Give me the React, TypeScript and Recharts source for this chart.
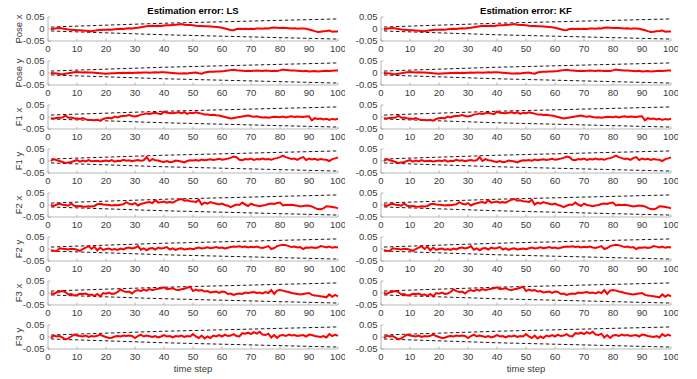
import React from "react";
import { LineChart, Line, XAxis, YAxis } from "recharts";

// ---------- data ----------
const rowLabels = ["Pose x", "Pose y", "F1 x", "F1 y", "F2 x", "F2 y", "F3 x", "F3 y"];
const columnTitles = ["Estimation error: LS", "Estimation error: KF"];
const xTicks = [0, 10, 20, 30, 40, 50, 60, 70, 80, 90, 100];
const yTicks = [-0.05, 0, 0.05];

// 3-sigma bound samples (time step -> bound)
const boundSteps = [1, 5, 10, 20, 30, 40, 50, 60, 70, 80, 90, 100];
const upperBound = [0.008, 0.010, 0.012, 0.016, 0.020, 0.024, 0.027, 0.030, 0.033, 0.036, 0.039, 0.042];
const lowerBound = [-0.008, -0.010, -0.012, -0.016, -0.020, -0.024, -0.027, -0.030, -0.033, -0.036, -0.039, -0.042];

const poseX = [
  0, 0.001, 0.003, 0.004, 0.002, 0.0, -0.002, -0.003, -0.004, -0.005,
  -0.005, -0.006, -0.007, -0.008, -0.009, -0.007, -0.005, -0.004, -0.003, -0.003,
  -0.002, -0.003, -0.001, 0.0, 0.001, 0.0, 0.002, 0.003, 0.002, 0.004,
  0.005, 0.007, 0.009, 0.011, 0.013, 0.014, 0.013, 0.014, 0.013, 0.015,
  0.016, 0.016, 0.017, 0.018, 0.019, 0.021, 0.018, 0.017, 0.017, 0.016,
  0.014, 0.013, 0.012, 0.011, 0.011, 0.010, 0.009, 0.008, 0.007, 0.005,
  0.002, -0.001, -0.004, -0.005, 0.0, 0.001, 0.0, 0.001, 0.0, 0.001,
  0.0, 0.002, 0.002, 0.001, 0.003, 0.002, 0.005, 0.006, 0.005, 0.004,
  0.005, 0.004, 0.003, 0.002, 0.003, 0.001, 0.002, 0.002, 0.001, -0.002,
  -0.005, -0.009, -0.012, -0.011, -0.009, -0.008, -0.006, -0.011, -0.010, -0.010,
];
const poseY = [
  0, -0.001, -0.002, -0.004, -0.005, -0.003, -0.001, 0.001, 0.003, 0.004,
  0.003, 0.002, 0.003, 0.002, 0.002, 0.001, 0.0, -0.001, -0.002, -0.003,
  -0.002, -0.001, -0.001, 0.0, 0.0, 0.001, 0.0, 0.001, 0.0, 0.001,
  0.002, 0.001, 0.002, 0.002, 0.001, 0.002, 0.003, 0.002, 0.003, 0.003,
  0.002, 0.001, 0.0, -0.001, -0.002, -0.002, -0.001, -0.002, 0.0, 0.001,
  0.002, -0.001, -0.003, 0.002, 0.004, 0.005, 0.005, 0.006, 0.006, 0.007,
  0.008, 0.010, 0.012, 0.013, 0.011, 0.010, 0.009, 0.008, 0.009, 0.008,
  0.009, 0.010, 0.009, 0.008, 0.010, 0.009, 0.008, 0.009, 0.008, 0.011,
  0.014, 0.012, 0.011, 0.010, 0.010, 0.009, 0.008, 0.007, 0.009, 0.006,
  0.007, 0.008, 0.006, 0.007, 0.008, 0.009, 0.008, 0.009, 0.010, 0.010,
];
const f1X = [
  -0.005, -0.006, -0.004, -0.003, -0.002, 0.006, -0.003, -0.002, -0.005, -0.006,
  -0.008, -0.004, -0.010, -0.012, -0.013, -0.014, -0.012, -0.015, -0.008, -0.005,
  -0.003, -0.006, 0.002, -0.002, 0.003, 0.004, 0.005, 0.008, 0.004, 0.002,
  0.005, 0.010, 0.012, 0.015, 0.013, 0.016, 0.018, 0.014, 0.012, 0.022,
  0.018, 0.017, 0.016, 0.018, 0.020, 0.016, 0.020, 0.013, 0.018, 0.016,
  0.020, 0.017, 0.014, 0.010, 0.010, 0.008, 0.009, 0.007, 0.006, 0.003,
  0.0, -0.003, -0.006, -0.004, -0.002, 0.0, 0.002, 0.004, 0.006, 0.003,
  0.001, 0.003, 0.0, -0.002, -0.001, -0.003, -0.001, 0.001, 0.0, -0.001,
  0.002, -0.002, 0.001, 0.003, 0.0, 0.002, 0.001, 0.0, 0.002, 0.003,
  -0.014, -0.005, -0.008, -0.006, -0.010, -0.007, -0.012, -0.008, -0.010, -0.007,
];
const f1Y = [
  0.0, 0.008, 0.003, 0.0, -0.004, -0.008, -0.006, -0.004, 0.0, 0.004,
  -0.003, 0.002, -0.002, 0.004, -0.001, 0.0, 0.001, -0.002, 0.0, 0.002,
  -0.001, 0.004, -0.003, 0.001, 0.0, 0.005, 0.001, 0.003, -0.001, 0.002,
  0.004, 0.001, 0.003, 0.016, 0.0, 0.008, 0.003, 0.002, -0.002, -0.004,
  0.0, -0.005, -0.003, 0.002, 0.0, -0.002, -0.006, 0.0, 0.003, 0.002,
  0.004, 0.001, 0.006, 0.003, 0.005, 0.007, 0.004, 0.006, 0.009, 0.005,
  0.007, 0.010, 0.013, 0.019, 0.016, 0.005, 0.003, 0.008, 0.006, 0.010,
  0.004, 0.008, 0.006, 0.010, 0.006, 0.008, 0.005, 0.010, 0.012, 0.016,
  0.022, 0.016, 0.012, 0.008, 0.010, 0.005, 0.012, 0.016, 0.004, 0.010,
  0.006, 0.009, 0.004, 0.008, 0.006, 0.005, 0.0, 0.008, 0.011, 0.015,
];
const f2X = [
  0.0, -0.004, 0.002, 0.005, 0.001, 0.0, -0.003, 0.006, -0.003, -0.005,
  -0.004, -0.006, -0.007, -0.005, -0.006, -0.004, 0.003, 0.005, 0.002, 0.001,
  0.0, -0.002, 0.0, -0.001, 0.001, 0.003, 0.012, 0.005, 0.002, 0.008,
  -0.002, 0.004, 0.007, 0.010, 0.012, 0.008, 0.020, 0.010, 0.012, 0.014,
  0.010, 0.012, 0.010, 0.016, 0.022, 0.025, 0.018, 0.020, 0.016, 0.015,
  0.012, 0.022, 0.002, 0.010, 0.006, 0.012, 0.008, 0.005, 0.002, 0.006,
  0.0, -0.003, -0.009, -0.003, 0.002, 0.0, 0.010, 0.002, -0.004, 0.006,
  0.0, -0.002, -0.005, -0.002, 0.0, 0.004, 0.006, 0.004, 0.008, 0.010,
  -0.002, 0.001, 0.0, 0.001, -0.001, -0.003, -0.006, -0.004, -0.002, -0.003,
  -0.006, -0.012, -0.017, -0.018, -0.014, -0.005, -0.006, -0.008, -0.010, -0.014,
];
const f2Y = [
  -0.005, -0.007, -0.008, 0.003, 0.001, 0.0, -0.002, 0.001, 0.0, -0.003,
  -0.008, 0.0, 0.006, 0.012, 0.0, 0.010, -0.006, 0.006, -0.004, 0.0,
  0.002, -0.003, 0.0, -0.004, 0.002, -0.002, 0.004, 0.006, 0.002, 0.005,
  0.012, -0.003, 0.003, -0.005, 0.002, 0.004, -0.002, 0.006, 0.002, 0.004,
  0.008, -0.002, 0.003, -0.004, 0.001, 0.003, -0.002, 0.0, 0.002, -0.001,
  0.003, 0.006, 0.002, 0.004, 0.007, 0.003, 0.005, 0.008, 0.004, 0.006,
  0.002, 0.005, 0.008, 0.010, 0.009, 0.011, 0.008, 0.010, 0.006, 0.009,
  0.007, 0.010, 0.006, 0.004, 0.008, 0.012, 0.0, 0.004, 0.012, 0.015,
  0.018, 0.016, 0.012, 0.008, 0.010, 0.006, 0.008, 0.0, 0.006, 0.005,
  0.007, 0.004, 0.006, 0.012, 0.010, 0.006, 0.010, 0.005, 0.008, 0.006,
];
const f3X = [
  0.0, -0.004, 0.003, 0.005, 0.008, 0.004, -0.006, -0.004, -0.010, -0.008,
  -0.003, -0.004, -0.002, -0.008, -0.006, -0.012, -0.004, -0.014, 0.0, -0.003,
  0.002, -0.004, -0.002, 0.004, 0.015, 0.008, 0.004, 0.006, -0.002, 0.008,
  0.012, 0.008, 0.014, 0.010, 0.016, 0.012, 0.015, 0.018, 0.020, 0.024,
  0.016, 0.018, 0.020, 0.014, 0.012, 0.016, 0.018, 0.022, 0.026, 0.008,
  0.014, 0.010, 0.012, 0.006, 0.008, 0.002, 0.004, 0.006, 0.0, 0.006,
  0.004, -0.004, -0.002, -0.008, -0.004, -0.002, -0.004, 0.002, 0.0, 0.002,
  0.004, 0.0, 0.002, -0.002, 0.004, 0.0, 0.012, -0.004, 0.010, 0.012,
  0.010, 0.006, 0.004, 0.0, -0.002, -0.004, -0.006, -0.004, -0.002, 0.0,
  -0.008, -0.010, -0.012, -0.014, -0.016, -0.018, -0.006, -0.016, -0.008, -0.014,
];
const f3Y = [
  -0.004, 0.006, 0.002, 0.004, -0.003, -0.010, -0.006, 0.002, 0.010, 0.006,
  0.004, 0.002, 0.006, 0.0, 0.004, 0.002, 0.005, 0.010, 0.004, 0.0,
  -0.004, -0.003, 0.002, 0.004, 0.002, 0.006, 0.004, 0.006, 0.004, -0.004,
  0.004, 0.010, 0.002, 0.006, 0.003, 0.0, 0.004, -0.002, 0.002, 0.008,
  0.002, 0.004, -0.002, 0.004, 0.002, 0.006, 0.0, 0.004, 0.002, 0.012,
  0.002, -0.004, 0.006, -0.006, 0.002, -0.004, 0.006, 0.002, 0.008, 0.002,
  0.010, 0.004, 0.006, 0.012, 0.004, 0.002, 0.016, 0.014, 0.018, 0.012,
  0.020, 0.014, 0.022, 0.010, 0.008, 0.014, -0.002, 0.008, -0.004, 0.006,
  0.008, 0.004, 0.010, 0.006, 0.008, 0.004, 0.006, 0.008, 0.002, 0.010,
  0.008, 0.004, 0.002, 0.0, 0.004, -0.002, 0.012, 0.004, 0.010, 0.005,
];

const seriesByRow = [poseX, poseY, f1X, f1Y, f2X, f2Y, f3X, f3Y];

// ---------- styling ----------
const FONT = "'Liberation Sans', Arial, Helvetica, sans-serif";
const FS = 9.5;
const AXIS = "#a6a6a6";
const TEXT = "#3a3a3a";
const RED = "#ff0000";

const PLOT_TOP0 = 17;
const ROW_PITCH = 44;
const PLOT_H = 24;
const TOP_M = 8;
const XAXIS_H = 14;
const CHART_W = 345;
const Y_AXIS_W = 48;
const RIGHT_M = 7;
const COL_LEFT = [0, 333];

const buildRows = (values: number[]) =>
  values.map((v, i) => {
    const t = i + 1;
    const bi = boundSteps.indexOf(t);
    return {
      t,
      v,
      up: bi >= 0 ? upperBound[bi] : null,
      lo: bi >= 0 ? lowerBound[bi] : null,
    };
  });

const XTick = (props: any) => {
  const { x, y, payload } = props;
  return (
    <g>
      <line x1={x} y1={y} x2={x} y2={y - 2.5} stroke={AXIS} strokeWidth={0.8} />
      <text x={x} y={y + 10.5} textAnchor="middle" fontSize={FS} fill={TEXT} fontFamily={FONT}>
        {payload.value}
      </text>
    </g>
  );
};

const fmtY = (v: number) => (v === 0 ? "0" : v.toFixed(2));

const YTick = (props: any) => {
  const { x, y, payload } = props;
  return (
    <g>
      <line x1={x} y1={y} x2={x + 2.5} y2={y} stroke={AXIS} strokeWidth={0.8} />
      <text x={x - 3.5} y={y} dy="0.35em" textAnchor="end" fontSize={FS} fill={TEXT} fontFamily={FONT}>
        {fmtY(payload.value)}
      </text>
    </g>
  );
};

const SubPlot = ({ values, col, row }: { values: number[]; col: number; row: number }) => {
  const data = buildRows(values);
  const top = PLOT_TOP0 + row * ROW_PITCH - TOP_M;
  return (
    <div style={{ position: "absolute", left: COL_LEFT[col], top }}>
      <LineChart
        width={CHART_W}
        height={TOP_M + PLOT_H + XAXIS_H}
        data={data}
        margin={{ top: TOP_M, right: RIGHT_M, bottom: 0, left: 0 }}
        style={{ overflow: "visible" }}
      >
        <XAxis
          dataKey="t"
          type="number"
          domain={[0, 100]}
          ticks={xTicks}
          interval={0}
          height={XAXIS_H}
          tickSize={0}
          tickMargin={0}
          tick={<XTick />}
          axisLine={{ stroke: AXIS, strokeWidth: 0.8 }}
          tickLine={false}
        />
        <YAxis
          type="number"
          domain={[-0.05, 0.05]}
          ticks={yTicks}
          interval={0}
          width={Y_AXIS_W}
          tickSize={0}
          tickMargin={0}
          tick={<YTick />}
          axisLine={{ stroke: AXIS, strokeWidth: 0.8 }}
          tickLine={false}
          allowDataOverflow
        />
        <Line
          dataKey="up"
          stroke="#000"
          strokeWidth={0.9}
          strokeDasharray="3.5 2.5"
          dot={false}
          connectNulls
          isAnimationActive={false}
        />
        <Line
          dataKey="lo"
          stroke="#000"
          strokeWidth={0.9}
          strokeDasharray="3.5 2.5"
          dot={false}
          connectNulls
          isAnimationActive={false}
        />
        <Line
          dataKey="v"
          stroke={RED}
          strokeWidth={2}
          dot={false}
          isAnimationActive={false}
        />
      </LineChart>
    </div>
  );
};

export default function App() {
  const plotCenters = [48 + 145, 381 + 145];
  return (
    <div
      style={{
        position: "absolute",
        left: 0,
        top: 0,
        width: 697,
        height: 379,
        background: "#fff",
        overflow: "hidden",
      }}
    >
      <svg width={697} height={379} style={{ position: "absolute", left: 0, top: 0 }}>
        {columnTitles.map((t, c) => (
          <text
            key={t}
            x={plotCenters[c]}
            y={14}
            textAnchor="middle"
            fontSize={FS}
            fontWeight="bold"
            fill="#000"
            fontFamily={FONT}
          >
            {t}
          </text>
        ))}
        {rowLabels.map((l, r) => {
          const cy = PLOT_TOP0 + r * ROW_PITCH + PLOT_H / 2;
          return (
            <text
              key={l}
              x={18}
              y={cy}
              textAnchor="middle"
              dominantBaseline="central"
              fontSize={FS}
              fill={TEXT}
              fontFamily={FONT}
              transform={`rotate(-90 18 ${cy})`}
            >
              {l}
            </text>
          );
        })}
        {plotCenters.map((cx, c) => (
          <text
            key={c}
            x={cx}
            y={372}
            textAnchor="middle"
            fontSize={FS}
            fill={TEXT}
            fontFamily={FONT}
          >
            time step
          </text>
        ))}
      </svg>
      {[0, 1].map((col) =>
        seriesByRow.map((vals, row) => (
          <SubPlot key={`${col}-${row}`} values={vals} col={col} row={row} />
        ))
      )}
    </div>
  );
}
